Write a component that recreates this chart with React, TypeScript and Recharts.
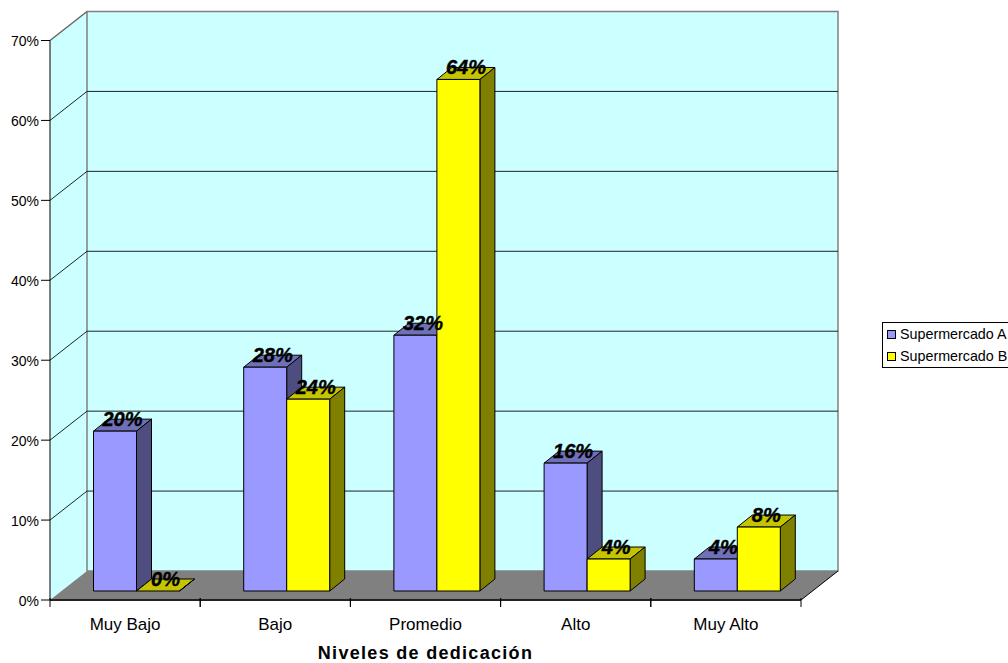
import { Bar, BarChart, CartesianGrid, LabelList, Legend, XAxis, YAxis, usePlotArea } from "recharts";

const categories = ["Muy Bajo", "Bajo", "Promedio", "Alto", "Muy Alto"];
const supermercadoA = [20, 28, 32, 16, 4];
const supermercadoB = [0, 24, 64, 4, 8];
const yTicks = [0, 10, 20, 30, 40, 50, 60, 70];

const data = categories.map((name, i) => ({ name, a: supermercadoA[i], b: supermercadoB[i] }));

const FONT = '"Liberation Sans", Arial, sans-serif';
// full depth of the fake 3D box, and how far the bars sit inside it
const DEPTH_X = 37;
const DEPTH_Y = 29;
const INSET_X = 11.5;
const INSET_Y = 9;
const BAR_DX = 15;
const BAR_DY = 12;
const BAND = 751 / categories.length;

function Walls() {
  const plot = usePlotArea();
  if (!plot) return null;
  const { x, y, width, height } = plot;
  const bottom = y + height;
  const right = x + width;
  return (
    <g>
      <polygon points={`${x},${y} ${x + DEPTH_X},${y - DEPTH_Y} ${x + DEPTH_X},${bottom - DEPTH_Y} ${x},${bottom}`} fill="#CCFFFF" />
      <rect x={x + DEPTH_X} y={y - DEPTH_Y} width={width} height={height} fill="#CCFFFF" stroke="#808080" strokeWidth={1.5} />
      <polyline points={`${x},${y} ${x + DEPTH_X},${y - DEPTH_Y}`} fill="none" stroke="#666666" strokeWidth={1.5} />
      <polygon
        points={`${x},${bottom} ${right},${bottom} ${right + DEPTH_X},${bottom - DEPTH_Y} ${x + DEPTH_X},${bottom - DEPTH_Y}`}
        fill="#808080"
      />
      <line x1={right} y1={bottom} x2={right + DEPTH_X} y2={bottom - DEPTH_Y} stroke="#000" />
      <line x1={x} y1={bottom} x2={right} y2={bottom} stroke="#222" strokeWidth={2} />
    </g>
  );
}

function GridLine(props: any) {
  const { x1, x2, y1 } = props;
  // nothing to draw for the floor line or the top edge
  if (y1 > 590 || y1 < 45) return <g />;
  return (
    <polyline
      points={`${x1},${y1} ${x1 + DEPTH_X},${y1 - DEPTH_Y} ${x2 + DEPTH_X},${y1 - DEPTH_Y}`}
      fill="none"
      stroke="#222"
      strokeWidth={1}
    />
  );
}

function Bar3D(props: any) {
  const { x, y, width, height, front, side, top } = props;
  const l = x + INSET_X;
  const t = y - INSET_Y;
  const r = l + width;
  const b = t + height;
  return (
    <g stroke="#000" strokeWidth={1} strokeLinejoin="round">
      <polygon points={`${l},${t} ${r},${t} ${r + BAR_DX},${t - BAR_DY} ${l + BAR_DX},${t - BAR_DY}`} fill={top} />
      <polygon points={`${r},${t} ${r + BAR_DX},${t - BAR_DY} ${r + BAR_DX},${b - BAR_DY} ${r},${b}`} fill={side} />
      {height > 0 && <rect x={l} y={t} width={width} height={height} fill={front} />}
    </g>
  );
}

function ValueLabel(props: any) {
  const { x, y, width, value } = props;
  return (
    <text
      x={x + INSET_X + width / 2 + BAR_DX / 2}
      y={y - INSET_Y - BAR_DY}
      textAnchor="middle"
      dominantBaseline="central"
      fontFamily={FONT}
      fontSize={20}
      fontWeight="bold"
      fontStyle="italic"
      fill="#000"
      stroke="#000"
      strokeWidth={0.4}
    >
      {value}%
    </text>
  );
}

function CategoryTick(props: any) {
  const { x, y, payload } = props;
  return (
    <g>
      <line x1={x - BAND / 2} y1={y - 8} x2={x - BAND / 2} y2={y + 1} stroke="#000" />
      <line x1={x + BAND / 2} y1={y - 8} x2={x + BAND / 2} y2={y + 1} stroke="#000" />
      <text x={x} y={y + 24} textAnchor="middle" fontFamily={FONT} fontSize={17} fill="#000">
        {payload.value}
      </text>
    </g>
  );
}

function LegendBox() {
  const items = [
    { label: "Supermercado A", color: "#9999FF" },
    { label: "Supermercado B", color: "#FFFF00" },
  ];
  return (
    <div
      style={{
        border: "1px solid #000",
        borderRight: "none",
        height: 44,
        width: 125,
        overflow: "hidden",
        fontFamily: FONT,
        fontSize: 14.3,
        color: "#000",
        whiteSpace: "nowrap",
        boxSizing: "content-box",
      }}
    >
      {items.map((item) => (
        <div key={item.label} style={{ display: "flex", alignItems: "center", height: 22 }}>
          <span
            style={{
              display: "inline-block",
              width: 7,
              height: 7,
              margin: "0 4px 0 4px",
              background: item.color,
              border: "1px solid #000",
            }}
          />
          {item.label}
        </div>
      ))}
    </div>
  );
}

export default function App() {
  return (
    <div style={{ position: "absolute", left: 0, top: 0, width: 1008, height: 663, overflow: "hidden", background: "#fff" }}>
      <BarChart
        width={1008}
        height={663}
        data={data}
        barSize={43}
        barGap={0}
        margin={{ top: 40.5, right: 82, bottom: 0, left: 0 }}
      >
        <CartesianGrid vertical={false} horizontal={(p: any) => (p.index === 0 ? <Walls key="walls" /> : <g key={p.index} />)} />
        <CartesianGrid vertical={false} horizontal={(p: any) => <GridLine key={p.index} {...p} />} />
        <XAxis
          dataKey="name"
          height={63}
          axisLine={false}
          tickLine={false}
          interval={0}
          tick={(p: any) => <CategoryTick {...p} />}
          tickMargin={0}
          label={{
            value: "Niveles de dedicación",
            position: "insideBottom",
            offset: 4,
            fontFamily: FONT,
            fontSize: 18,
            fontWeight: "bold",
            fill: "#000",
            letterSpacing: 1.3,
          }}
        />
        <YAxis
          width={50}
          domain={[0, 70]}
          ticks={yTicks}
          interval={0}
          tickFormatter={(v: number) => `${v}%`}
          axisLine={{ stroke: "#000" }}
          tickLine={{ stroke: "#000" }}
          tickSize={9}
          tickMargin={2}
          tick={{ fontFamily: FONT, fontSize: 14, fill: "#000", dy: 1 }}
        />
        <Legend
          layout="vertical"
          align="right"
          verticalAlign="middle"
          width={125}
          content={<LegendBox />}
          wrapperStyle={{ left: 882, right: "auto", top: 322 }}
        />
        <Bar
          dataKey="a"
          name="Supermercado A"
          isAnimationActive={false}
          shape={(p: any) => <Bar3D {...p} front="#9999FF" side="#4D4D80" top="#7070B8" />}
        >
          <LabelList dataKey="a" content={(p: any) => <ValueLabel {...p} />} />
        </Bar>
        <Bar
          dataKey="b"
          name="Supermercado B"
          isAnimationActive={false}
          shape={(p: any) => <Bar3D {...p} front="#FFFF00" side="#808000" top="#C4C400" />}
        >
          <LabelList dataKey="b" content={(p: any) => <ValueLabel {...p} />} />
        </Bar>
      </BarChart>
    </div>
  );
}
